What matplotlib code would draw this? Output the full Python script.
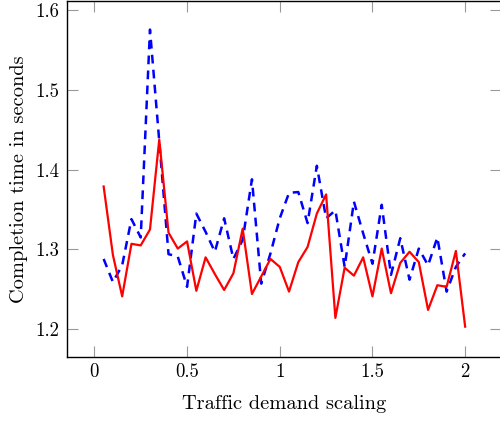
""" Completion time vs traffic demand scaling """

import matplotlib
matplotlib.use('Agg')
import matplotlib.pyplot as plt
import numpy

plt.rcParams['font.family'] = ['cmr10', 'DejaVu Serif']
plt.rcParams['axes.formatter.use_mathtext'] = True

# demand scaling factors 0.05 .. 2.0
scaling = [0.05, 0.10, 0.15, 0.20, 0.25, 0.30, 0.35, 0.40, 0.45, 0.50,
           0.55, 0.60, 0.65, 0.70, 0.75, 0.80, 0.85, 0.90, 0.95, 1.00,
           1.05, 1.10, 1.15, 1.20, 1.25, 1.30, 1.35, 1.40, 1.45, 1.50,
           1.55, 1.60, 1.65, 1.70, 1.75, 1.80, 1.85, 1.90, 1.95, 2.00]

# blue dashed series
time_dashed = [1.288, 1.259, 1.280, 1.338, 1.315, 1.576, 1.436, 1.294, 1.291, 1.253,
               1.345, 1.322, 1.297, 1.339, 1.288, 1.312, 1.388, 1.257, 1.295, 1.339,
               1.371, 1.372, 1.333, 1.405, 1.339, 1.349, 1.278, 1.360, 1.320, 1.282,
               1.356, 1.268, 1.314, 1.262, 1.301, 1.280, 1.315, 1.247, 1.278, 1.295]

# red solid series
time_solid = [1.379, 1.293, 1.241, 1.307, 1.305, 1.325, 1.438, 1.321, 1.301, 1.310,
              1.248, 1.290, 1.269, 1.249, 1.270, 1.326, 1.244, 1.266, 1.288, 1.278,
              1.247, 1.284, 1.303, 1.345, 1.369, 1.214, 1.277, 1.267, 1.290, 1.241,
              1.301, 1.245, 1.283, 1.297, 1.284, 1.224, 1.255, 1.253, 1.298, 1.203]

xticks = [0, 0.5, 1, 1.5, 2]
xtick_labels = ['0', '0.5', '1', '1.5', '2']
yticks = [1.2, 1.3, 1.4, 1.5, 1.6]
ytick_labels = ['1.2', '1.3', '1.4', '1.5', '1.6']

fig = plt.figure(figsize=(5, 4.21), dpi=100)
ax = fig.add_axes([0.1346, 0.1513, 0.868, 0.8475])

ax.plot(scaling, time_dashed, color='#0000ff', lw=1.8, ls=(0, (3.5, 2.5)))
ax.plot(scaling, time_solid, color='#ff0000', lw=1.6)

ax.set_xlim(-0.146, 2.195)
ax.set_ylim(1.1645, 1.6125)
ax.set_xticks(xticks)
ax.set_xticklabels(xtick_labels)
ax.set_yticks(yticks)
ax.set_yticklabels(ytick_labels)
ax.tick_params(direction='in', length=8, width=0.8, color='#999999',
               top=True, right=True, labelsize=13.5)
ax.tick_params(axis='x', pad=4)
ax.tick_params(axis='y', pad=6)
for s in ax.spines.values():
    s.set_linewidth(1.0)
    s.set_color('black')

ax.set_xlabel('Traffic demand scaling', fontsize=14.7, labelpad=10)
ax.set_ylabel('Completion time in seconds', fontsize=14.7, labelpad=5)

fig.savefig('out.png', dpi=100)
